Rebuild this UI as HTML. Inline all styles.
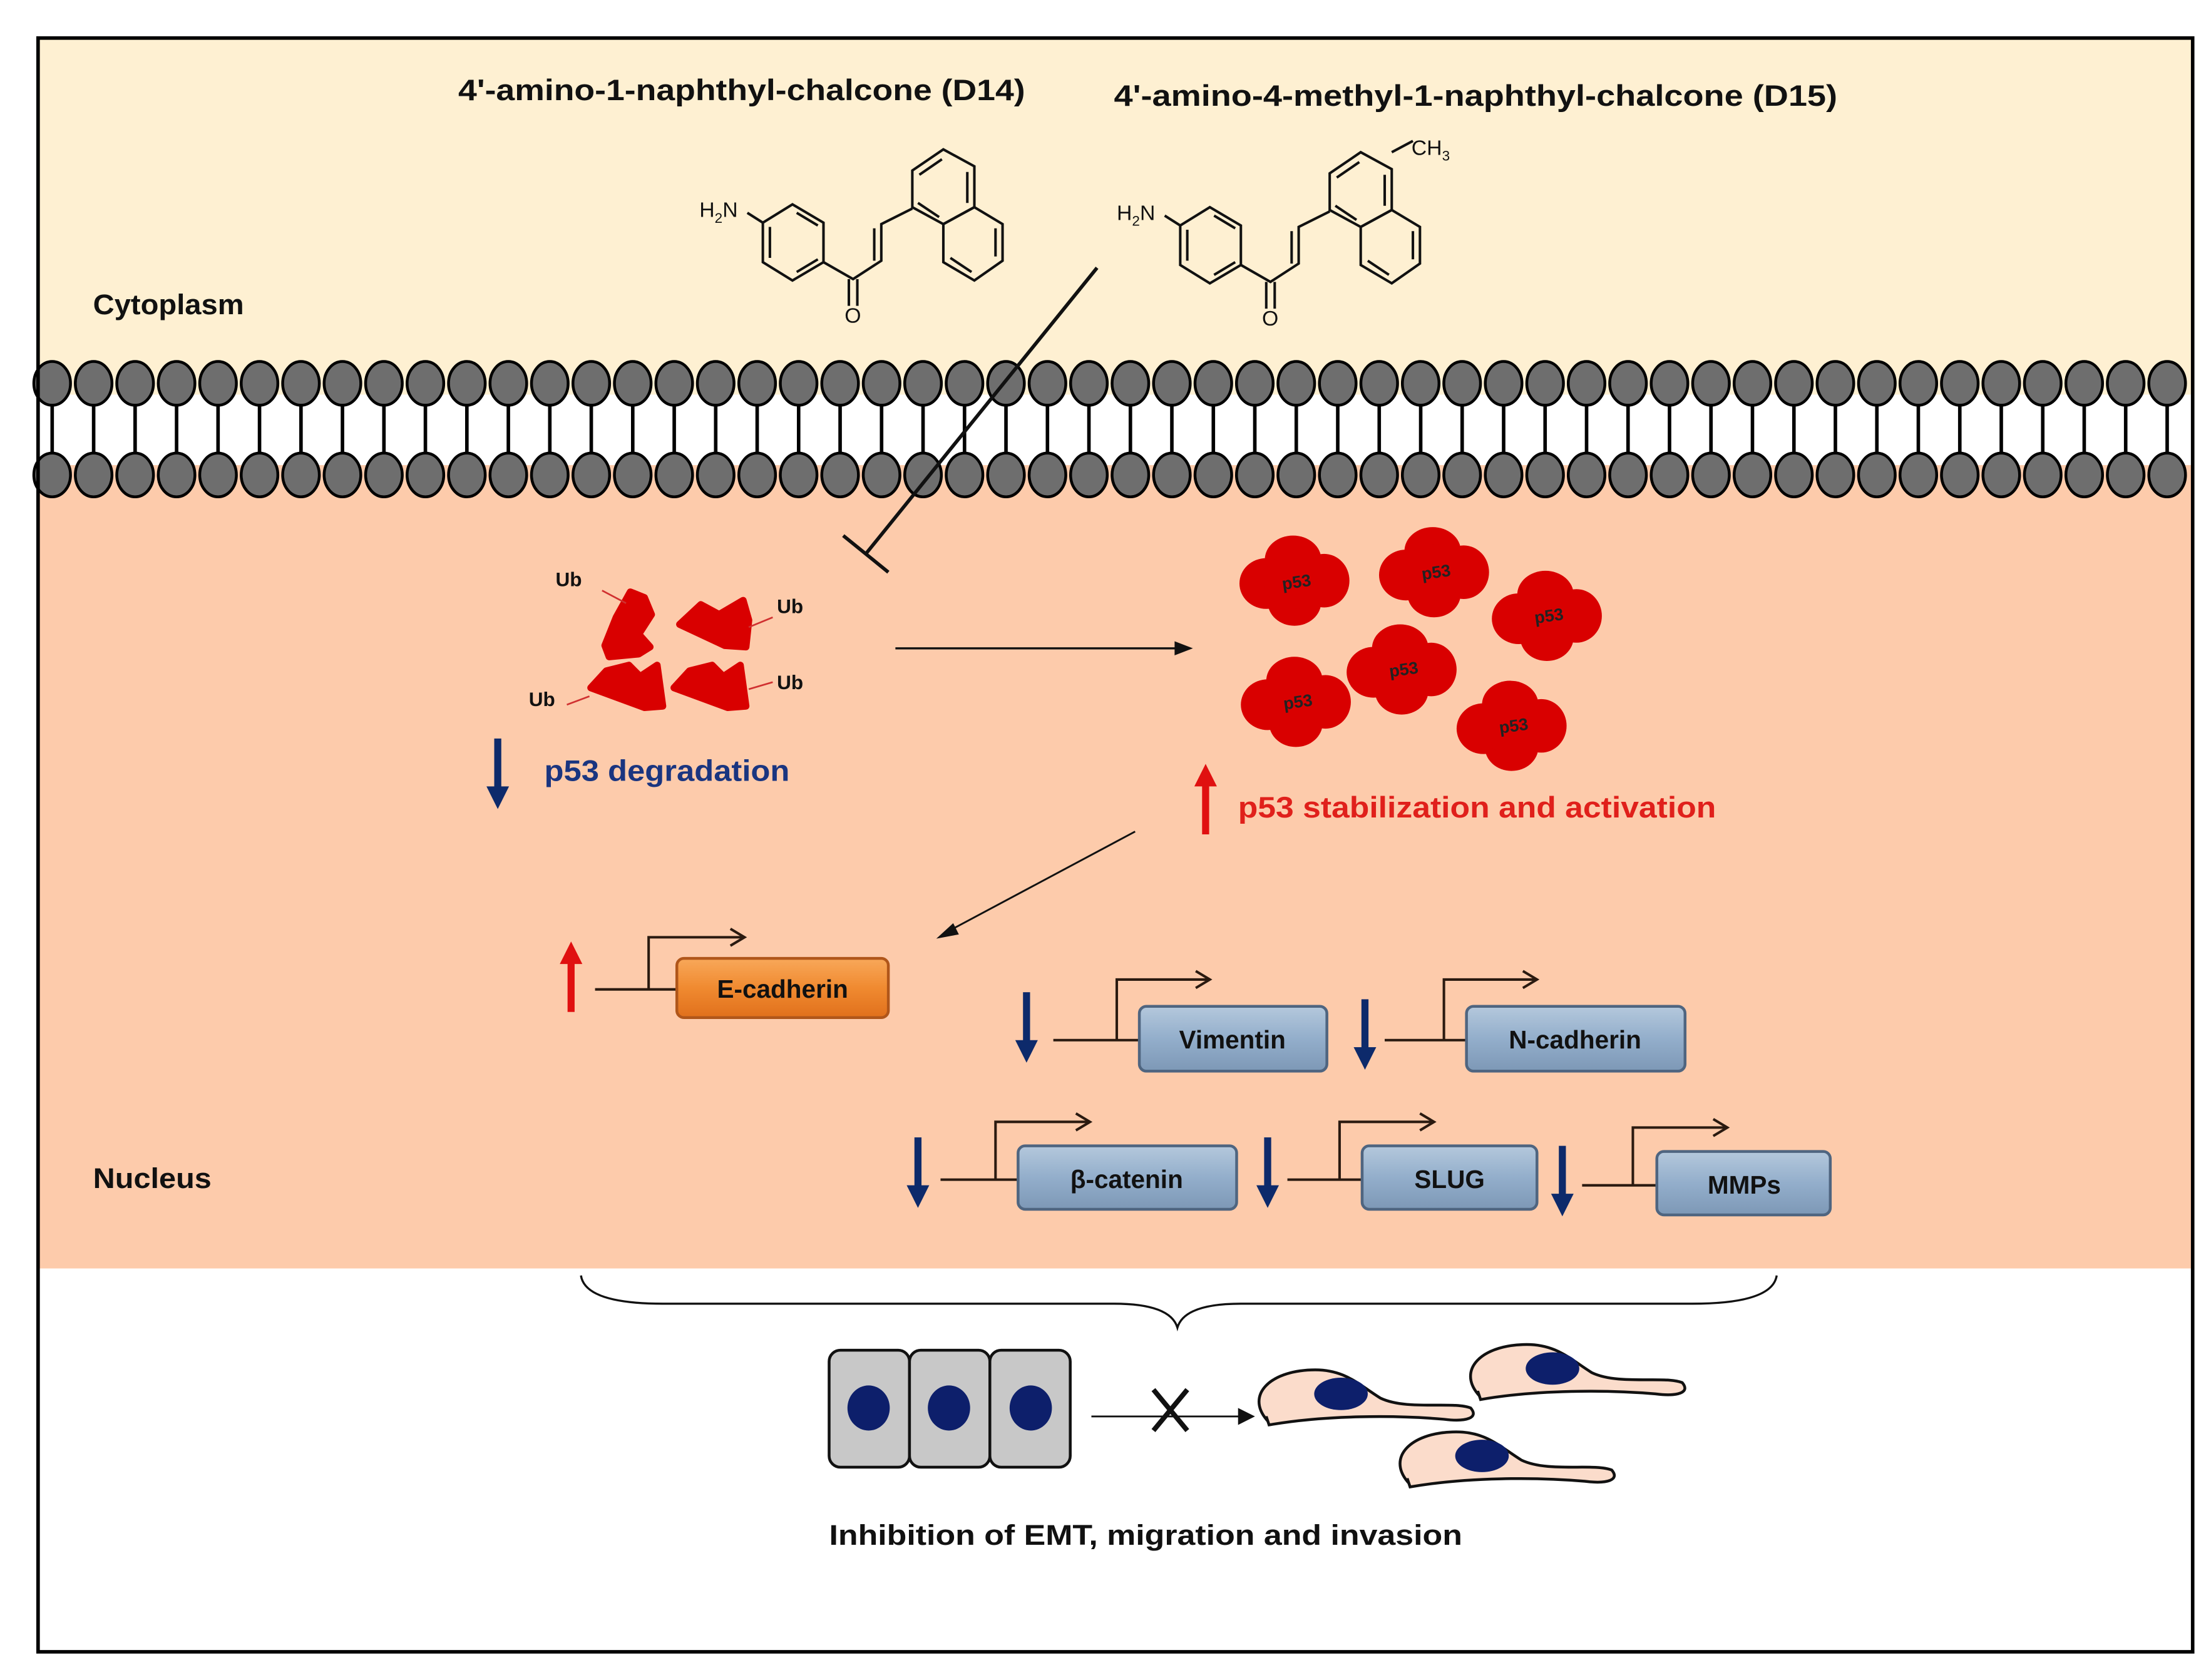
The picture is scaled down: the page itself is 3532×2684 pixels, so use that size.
<!DOCTYPE html>
<html><head><meta charset="utf-8"><style>
html,body{margin:0;padding:0;background:#fff;}
svg{display:block;}
text{font-family:"Liberation Sans",sans-serif;font-weight:bold;}
</style></head><body>
<svg width="3532" height="2684" viewBox="0 0 1568 1192" preserveAspectRatio="none" xmlns="http://www.w3.org/2000/svg">
<defs>
<linearGradient id="gb" x1="0" y1="0" x2="0" y2="1"><stop offset="0" stop-color="#b4c8dc"/><stop offset="0.5" stop-color="#93aecb"/><stop offset="1" stop-color="#7d98b6"/></linearGradient>
<linearGradient id="go" x1="0" y1="0" x2="0" y2="1"><stop offset="0" stop-color="#f8a85a"/><stop offset="0.5" stop-color="#f08a30"/><stop offset="1" stop-color="#e0701c"/></linearGradient>
<g id="blob" fill="#d90000">
<ellipse cx="-1" cy="-15" rx="20" ry="17"/><ellipse cx="-20" cy="2" rx="19" ry="18"/><ellipse cx="21" cy="0" rx="18" ry="19"/><ellipse cx="0" cy="15" rx="19" ry="17"/><ellipse cx="0" cy="0" rx="22" ry="20"/>
</g>
<path id="cell" d="M898 1007 C884 990 900 973 930 972 C953 971 963 982 979 992 C998 1001 1030 994 1043 999 C1049 1006 1040 1009 1024 1007 C990 1004 940 1004 900 1011 L898 1005 Z" fill="#fbdccb" stroke="#111" stroke-width="2"/>
</defs>
<rect x="27" y="27" width="1528" height="1145" fill="#fff"/>
<rect x="27" y="27" width="1528" height="253" fill="#fef0d2"/>
<rect x="27" y="330" width="1528" height="570" fill="#fdcbab"/>
<g stroke="#000" stroke-width="2.5" id="stalks"></g>
<g id="lipids" fill="#6e6e6e" stroke="#000" stroke-width="2"></g>
<rect x="27" y="27" width="1528" height="1145" fill="none" stroke="#000" stroke-width="2.5"/>

<text x="325" y="71" font-size="21" textLength="402" lengthAdjust="spacingAndGlyphs" fill="#111">4'-amino-1-naphthyl-chalcone (D14)</text>
<text x="790" y="75" font-size="21" textLength="513" lengthAdjust="spacingAndGlyphs" fill="#111">4'-amino-4-methyl-1-naphthyl-chalcone (D15)</text>
<text x="66" y="223" font-size="20" textLength="107" lengthAdjust="spacingAndGlyphs" fill="#111">Cytoplasm</text>
<text x="66" y="843" font-size="20" textLength="84" lengthAdjust="spacingAndGlyphs" fill="#111">Nucleus</text>

<g id="mol" fill="none" stroke="#111" stroke-width="1.8">
<polygon points="562,145 584,158 584,186 562,199 541,186 541,158"/>
<line x1="546" y1="161" x2="546" y2="183"/><line x1="565" y1="151" x2="580" y2="160"/><line x1="565" y1="193" x2="580" y2="184"/>
<line x1="530" y1="151" x2="541" y2="158"/>
<polyline points="584,186 605,198 625,185 625,159 647,148"/>
<line x1="602" y1="198" x2="602" y2="217"/><line x1="608" y1="198" x2="608" y2="217"/>
<line x1="620" y1="185" x2="620" y2="162"/>
<polygon points="647,121 669,106 691,118 691,147 669,159 647,147"/>
<polygon points="691,147 711,159 711,185 691,199 669,186 669,159"/>
<line x1="652" y1="124" x2="668" y2="113"/><line x1="686" y1="122" x2="686" y2="144"/><line x1="706" y1="162" x2="706" y2="182"/><line x1="674" y1="183" x2="689" y2="193"/><line x1="651" y1="144" x2="666" y2="154"/>
</g>
<text x="496" y="154" font-size="15" fill="#111" style="font-weight:normal">H<tspan font-size="10" dy="4">2</tspan><tspan dy="-4">N</tspan></text>
<text x="599" y="229" font-size="15" fill="#111" style="font-weight:normal">O</text>
<use href="#mol" transform="translate(296,2)"/>
<line x1="987" y1="108" x2="1002" y2="100" stroke="#111" stroke-width="1.8"/>
<text x="792" y="156" font-size="15" fill="#111" style="font-weight:normal">H<tspan font-size="10" dy="4">2</tspan><tspan dy="-4">N</tspan></text>
<text x="895" y="231" font-size="15" fill="#111" style="font-weight:normal">O</text>
<text x="1001" y="110" font-size="15" fill="#111" style="font-weight:normal">CH<tspan font-size="10" dy="4">3</tspan></text>

<line x1="778" y1="190" x2="614" y2="393" stroke="#111" stroke-width="2.5"/>
<line x1="598" y1="380" x2="630" y2="406" stroke="#111" stroke-width="2.5"/>

<g fill="#d90000" stroke="#d90000" stroke-width="5" stroke-linejoin="round">
<polygon points="447,420 457,424 462,436 453,450 461,459 453,464 432,466 429,458 437,438"/>
<polygon points="482,443 497,429 510,436 527,426 531,440 529,459 514,458"/>
<polygon points="419,488 430,476 446,472 454,480 466,472 470,501 457,502"/>
<polygon points="478,488 489,476 505,472 513,480 525,472 529,501 516,502"/>
</g>
<g stroke="#d03030" stroke-width="1.2">
<line x1="427" y1="419" x2="444" y2="428"/><line x1="531" y1="445" x2="548" y2="438"/><line x1="402" y1="500" x2="418" y2="494"/><line x1="531" y1="489" x2="548" y2="484"/>
</g>
<g font-size="14" fill="#111">
<text x="394" y="416">Ub</text><text x="551" y="435">Ub</text><text x="375" y="501">Ub</text><text x="551" y="489">Ub</text>
</g>

<line x1="635" y1="460" x2="835" y2="460" stroke="#111" stroke-width="1.5"/>
<polygon points="846,460 833,455 833,465" fill="#111"/>

<g font-size="12" fill="#222" text-anchor="middle">
<use href="#blob" x="918" y="412"/><text transform="translate(920,417) rotate(-8)">p53</text>
<use href="#blob" x="1017" y="406"/><text transform="translate(1019,410) rotate(-8)">p53</text>
<use href="#blob" x="1097" y="437"/><text transform="translate(1099,441) rotate(-8)">p53</text>
<use href="#blob" x="994" y="475"/><text transform="translate(996,479) rotate(-8)">p53</text>
<use href="#blob" x="919" y="498"/><text transform="translate(921,502) rotate(-8)">p53</text>
<use href="#blob" x="1072" y="515"/><text transform="translate(1074,519) rotate(-8)">p53</text>
</g>

<g fill="#0d2a6b">
<rect x="350.5" y="524" width="5" height="36"/><polygon points="345,558 361,558 353,574"/>
</g>
<text x="386" y="554" font-size="21" textLength="174" lengthAdjust="spacingAndGlyphs" fill="#1a3580">p53 degradation</text>
<g fill="#e01010">
<rect x="852.5" y="556" width="5" height="36"/><polygon points="847,558 863,558 855,542"/>
</g>
<text x="878" y="580" font-size="21" textLength="339" lengthAdjust="spacingAndGlyphs" fill="#e0201b">p53 stabilization and activation</text>

<line x1="805" y1="590" x2="672" y2="661" stroke="#111" stroke-width="1.3"/>
<polygon points="664,666 676,655 680,663" fill="#111"/>

<g stroke="#2a1a10" stroke-width="1.8" fill="none">
<polyline points="422,702 480,702"/><polyline points="460,702 460,665 528,665"/><polyline points="518,659 528,665 518,671"/>
<polyline points="747,738 808,738"/><polyline points="792,738 792,695 858,695"/><polyline points="848,689 858,695 848,701"/>
<polyline points="982,738 1040,738"/><polyline points="1024,738 1024,695 1090,695"/><polyline points="1080,689 1090,695 1080,701"/>
<polyline points="667,837 722,837"/><polyline points="706,837 706,796 773,796"/><polyline points="763,790 773,796 763,802"/>
<polyline points="913,837 966,837"/><polyline points="950,837 950,796 1017,796"/><polyline points="1007,790 1017,796 1007,802"/>
<polyline points="1122,841 1175,841"/><polyline points="1158,841 1158,800 1225,800"/><polyline points="1215,794 1225,800 1215,806"/>
</g>
<g fill="#e01010"><rect x="402.5" y="682" width="5" height="36"/><polygon points="397,684 413,684 405,668"/></g>
<g fill="#0d2a6b">
<rect x="725.5" y="704" width="5" height="36"/><polygon points="720,738 736,738 728,754"/>
<rect x="965.5" y="709" width="5" height="36"/><polygon points="960,743 976,743 968,759"/>
<rect x="648.5" y="807" width="5" height="36"/><polygon points="643,841 659,841 651,857"/>
<rect x="896.5" y="807" width="5" height="36"/><polygon points="891,841 907,841 899,857"/>
<rect x="1105.5" y="813" width="5" height="36"/><polygon points="1100,847 1116,847 1108,863"/>
</g>
<g stroke="#4f6580" stroke-width="2">
<rect x="480" y="680" width="150" height="42" rx="5" fill="url(#go)" stroke="#b0561a"/>
<rect x="808" y="714" width="133" height="46" rx="5" fill="url(#gb)"/>
<rect x="1040" y="714" width="155" height="46" rx="5" fill="url(#gb)"/>
<rect x="722" y="813" width="155" height="45" rx="5" fill="url(#gb)"/>
<rect x="966" y="813" width="124" height="45" rx="5" fill="url(#gb)"/>
<rect x="1175" y="817" width="123" height="45" rx="5" fill="url(#gb)"/>
</g>
<g font-size="18" fill="#111" text-anchor="middle">
<text x="555" y="708">E-cadherin</text>
<text x="874" y="744">Vimentin</text>
<text x="1117" y="744">N-cadherin</text>
<text x="799" y="843">β-catenin</text>
<text x="1028" y="843">SLUG</text>
<text x="1237" y="847">MMPs</text>
</g>

<path d="M412 905 Q415 925 470 925 L790 925 Q830 925 835 942 Q840 925 880 925 L1200 925 Q1257 925 1260 905" fill="none" stroke="#111" stroke-width="1.5"/>

<g fill="#c8c8c8" stroke="#111" stroke-width="2">
<rect x="588" y="958" width="57" height="83" rx="8"/><rect x="645" y="958" width="57" height="83" rx="8"/><rect x="702" y="958" width="57" height="83" rx="8"/>
</g>
<g fill="#0d1f6b">
<ellipse cx="616" cy="999" rx="15" ry="16"/><ellipse cx="673" cy="999" rx="15" ry="16"/><ellipse cx="731" cy="999" rx="15" ry="16"/>
</g>
<line x1="774" y1="1005" x2="880" y2="1005" stroke="#111" stroke-width="1.3"/>
<polygon points="890,1005 878,999 878,1011" fill="#111"/>
<g stroke="#111" stroke-width="3.5"><line x1="818" y1="986" x2="842" y2="1015"/><line x1="842" y1="986" x2="818" y2="1015"/></g>

<use href="#cell"/>
<use href="#cell" transform="translate(150,-18)"/>
<use href="#cell" transform="translate(100,44)"/>
<g fill="#0d1f6b">
<ellipse cx="951" cy="989" rx="19" ry="11.5"/><ellipse cx="1101" cy="971" rx="19" ry="11.5"/><ellipse cx="1051" cy="1033" rx="19" ry="11.5"/>
</g>
<text x="588" y="1096" font-size="20" textLength="449" lengthAdjust="spacingAndGlyphs" fill="#111">Inhibition of EMT, migration and invasion</text>
</svg>
<script>
(function(){
var ns="http://www.w3.org/2000/svg";
var st=document.getElementById("stalks"),lp=document.getElementById("lipids");
for(var i=0;i<52;i++){
 var x=37+i*29.41;
 var l=document.createElementNS(ns,"line");
 l.setAttribute("x1",x);l.setAttribute("x2",x);l.setAttribute("y1",285);l.setAttribute("y2",325);st.appendChild(l);
 [272,337].forEach(function(y){
  var e=document.createElementNS(ns,"ellipse");
  e.setAttribute("cx",x);e.setAttribute("cy",y);e.setAttribute("rx",13);e.setAttribute("ry",15.5);lp.appendChild(e);
 });
}
})();
</script>
</body></html>
